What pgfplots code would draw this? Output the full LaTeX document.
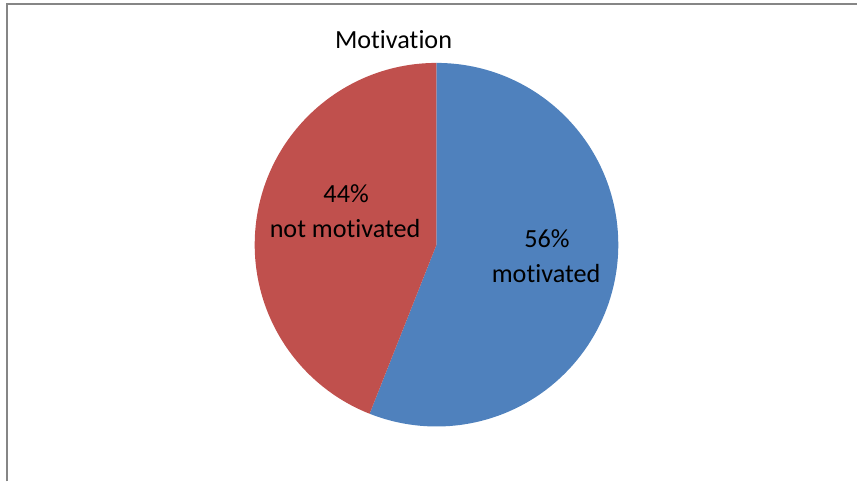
\documentclass[border=0pt]{standalone}
\usepackage{fontspec}
\setmainfont{Carlito}[Ligatures={NoCommon}]
\usepackage{pgfplots}
\pgfplotsset{compat=1.18}
\definecolor{pieblue}{HTML}{4F81BD}
\definecolor{piered}{HTML}{C0504D}
\definecolor{framegray}{HTML}{868686}
\begin{document}
\begin{tikzpicture}
\def\valA{56}% motivated
\def\valB{44}% not motivated
\begin{axis}[
  width=858bp, height=482bp, scale only axis,
  xmin=0, xmax=858, ymin=0, ymax=482,
  hide axis, clip=false,
]
\path (axis cs:0,0) rectangle (axis cs:858,482);
% frame
\draw[framegray, line width=2bp] (axis cs:7,0) -- (axis cs:7,478.2) -- (axis cs:858,478.2);
% slices
\fill[pieblue] (axis cs:437,237) -- ++(90:182bp) arc[start angle=90, delta angle={-\valA*3.6}, radius=182bp] -- cycle;
\fill[piered] (axis cs:437,237) -- ++(90:182bp) arc[start angle=90, delta angle={\valB*3.6}, radius=182bp] -- cycle;
% title
\node[anchor=base, font=\fontsize{26.3}{31}\selectfont] at (axis cs:394,433) {Motivation};
% labels
\node[anchor=base, font=\fontsize{26.3}{31}\selectfont] at (axis cs:346.5,279) {\valB\%};
\node[anchor=base, font=\fontsize{26.3}{31}\selectfont] at (axis cs:345.5,244.5) {not motivated};
\node[anchor=base, font=\fontsize{26.3}{31}\selectfont] at (axis cs:547.5,234) {\valA\%};
\node[anchor=base, font=\fontsize{26.3}{31}\selectfont] at (axis cs:546.7,199.5) {motivated};
\end{axis}
\end{tikzpicture}
\end{document}
